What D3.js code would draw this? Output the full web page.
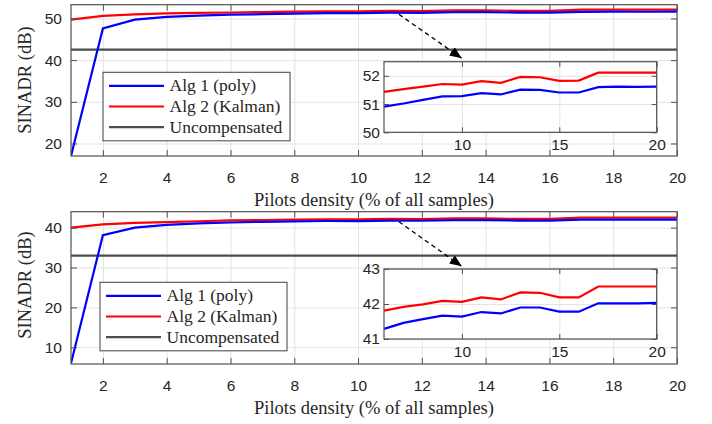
<!DOCTYPE html>
<html>
<head>
<meta charset="utf-8">
<script src="https://cdn.jsdelivr.net/npm/d3@7"></script>
<style>
	body { margin: 0; background: #fff; }
	svg { display: block; }
</style>
</head>
<body>
<script>
'use strict';

// Pilots density (% of all samples)
const density = d3.range(1, 21);

// Top panel
const topAlg1 = [17.0, 47.6, 49.7, 50.4, 50.7, 50.91, 51.02, 51.15, 51.27, 51.28, 51.39, 51.34, 51.51, 51.50, 51.41, 51.41, 51.60, 51.62, 51.61, 51.62];
const topAlg2 = [49.7, 50.6, 51.0, 51.2, 51.35, 51.43, 51.53, 51.62, 51.71, 51.69, 51.81, 51.75, 51.96, 51.95, 51.82, 51.83, 52.11, 52.11, 52.11, 52.11];
const topUncomp = 42.5;

// Bottom panel
const botAlg1 = [6.0, 38.1, 40.0, 40.7, 41.05, 41.29, 41.46, 41.57, 41.67, 41.64, 41.77, 41.73, 41.90, 41.90, 41.78, 41.78, 42.02, 42.02, 42.02, 42.03];
const botAlg2 = [40.0, 40.8, 41.2, 41.4, 41.6, 41.81, 41.92, 41.99, 42.09, 42.06, 42.19, 42.13, 42.33, 42.32, 42.19, 42.19, 42.50, 42.50, 42.50, 42.50];
const botUncomp = 33;

const xTicks = [2, 4, 6, 8, 10, 12, 14, 16, 18, 20];
const topYTicks = [20, 30, 40, 50];
const botYTicks = [10, 20, 30, 40];
const insetXTicks = [10, 15, 20];
const topInsetYTicks = [50, 51, 52];
const botInsetYTicks = [41, 42, 43];

const legendLabels = ["Alg 1 (poly)", "Alg 2 (Kalman)", "Uncompensated"];
const xLabel = "Pilots density (% of all samples)";
const yLabel = "SINADR (dB)";

const BLUE = "#0000ff", RED = "#ff0000", GRAY = "#4d4d4d";
const AXIS = "#505050", GRID = "#e3e3e3";
const SANS = "'Liberation Sans', Arial, sans-serif";
const SERIF = "'Liberation Serif', 'Times New Roman', serif";
const fmt = d3.format("d");

const svg = d3.select("body").append("svg")
	.attr("width", 712)
	.attr("height", 424);

svg.append("defs").append("marker")
	.attr("id", "head")
	.attr("markerUnits", "userSpaceOnUse")
	.attr("viewBox", "0 0 12 10")
	.attr("refX", 12).attr("refY", 5)
	.attr("markerWidth", 12).attr("markerHeight", 10)
	.attr("orient", "auto")
	.append("path")
	.attr("d", "M0,0 L12,5 L0,10 Z")
	.attr("fill", "#000");

// White plot area and grid
const drawFrame = (g, xScale, yScale, xt, yt) => {
	const [x0, x1] = xScale.range();
	const [y0, y1] = yScale.range(); // y0 bottom, y1 top

	g.append("rect")
		.attr("x", x0).attr("y", y1)
		.attr("width", x1 - x0).attr("height", y0 - y1)
		.attr("fill", "#fff");

	g.append("g")
		.attr("transform", `translate(0, ${y0})`)
		.call(d3.axisBottom(xScale).tickValues(xt).tickSize(-(y0 - y1)).tickFormat(""))
		.call(s => s.select(".domain").remove())
		.selectAll("line").attr("stroke", GRID);
	g.append("g")
		.attr("transform", `translate(${x0}, 0)`)
		.call(d3.axisLeft(yScale).tickValues(yt).tickSize(-(x1 - x0)).tickFormat(""))
		.call(s => s.select(".domain").remove())
		.selectAll("line").attr("stroke", GRID);
}

// Box with inward ticks on all four sides
const drawTicks = (g, xScale, yScale, xt, yt, tick, xPad, yPad) => {
	const [x0, x1] = xScale.range();
	const [y0, y1] = yScale.range();
	const style = s => {
		s.select(".domain").remove();
		s.selectAll("line").attr("stroke", AXIS);
		s.selectAll("text")
			.attr("font-family", SANS)
			.attr("font-size", "15.5px")
			.attr("fill", "#262626");
	}
	g.append("g")
		.attr("transform", `translate(0, ${y0})`)
		.call(d3.axisBottom(xScale).tickValues(xt).tickSize(-tick).tickPadding(xPad).tickFormat(fmt))
		.call(style);
	g.append("g")
		.attr("transform", `translate(0, ${y1})`)
		.call(d3.axisTop(xScale).tickValues(xt).tickSize(-tick).tickFormat(""))
		.call(style);
	g.append("g")
		.attr("transform", `translate(${x0}, 0)`)
		.call(d3.axisLeft(yScale).tickValues(yt).tickSize(-tick).tickPadding(yPad).tickFormat(fmt))
		.call(style);
	g.append("g")
		.attr("transform", `translate(${x1}, 0)`)
		.call(d3.axisRight(yScale).tickValues(yt).tickSize(-tick).tickFormat(""))
		.call(style);

	g.append("rect")
		.attr("x", x0).attr("y", y1)
		.attr("width", x1 - x0).attr("height", y0 - y1)
		.attr("fill", "none")
		.attr("stroke", AXIS)
		.attr("stroke-width", 1.2);
}

const drawPanel = (p) => {
	const g = svg.append("g");
	const xScale = d3.scaleLinear().domain([1, 20]).range([71, 677]);
	const yScale = d3.scaleLinear().domain(p.yDomain).range([p.bottom, p.top]);

	drawFrame(g, xScale, yScale, xTicks, p.yTicks);

	const clipId = "clip" + p.id;
	g.append("clipPath").attr("id", clipId)
		.append("rect")
		.attr("x", 71).attr("y", p.top)
		.attr("width", 606).attr("height", p.bottom - p.top);

	const line = d3.line()
		.x((d, i) => xScale(density[i]))
		.y(d => yScale(d));

	const plot = g.append("g").attr("clip-path", `url(#${clipId})`);
	plot.append("path")
		.attr("d", line(density.map(() => p.uncomp)))
		.attr("fill", "none").attr("stroke", GRAY).attr("stroke-width", 2.2);
	plot.append("path")
		.attr("d", line(p.alg2))
		.attr("fill", "none").attr("stroke", RED).attr("stroke-width", 2.2);
	plot.append("path")
		.attr("d", line(p.alg1))
		.attr("fill", "none").attr("stroke", BLUE).attr("stroke-width", 2.2);

	drawTicks(g, xScale, yScale, xTicks, p.yTicks, 6, 16, 9);

	// axis titles
	g.append("text")
		.attr("x", (71 + 677) / 2)
		.attr("y", p.bottom + 50)
		.attr("text-anchor", "middle")
		.attr("font-family", SERIF)
		.attr("font-size", "18.5px")
		.attr("fill", "#262626")
		.text(xLabel);
	g.append("text")
		.attr("transform", `translate(31, ${p.yTitle}) rotate(-90)`)
		.attr("text-anchor", "middle")
		.attr("font-family", SERIF)
		.attr("font-size", "18.5px")
		.attr("fill", "#262626")
		.text(yLabel);

	// arrow to the inset
	g.append("line")
		.attr("x1", xScale(p.arrow[0][0])).attr("y1", yScale(p.arrow[0][1]))
		.attr("x2", xScale(p.arrow[1][0])).attr("y2", yScale(p.arrow[1][1]))
		.attr("stroke", "#000")
		.attr("stroke-width", 1.3)
		.attr("stroke-dasharray", "4.5,3.5")
		.attr("marker-end", "url(#head)");

	// legend
	const lg = g.append("g").attr("transform", `translate(${p.legend[0]}, ${p.legend[1]})`);
	lg.append("rect")
		.attr("width", 187).attr("height", 68.5)
		.attr("fill", "#fff")
		.attr("stroke", AXIS)
		.attr("stroke-width", 1.1);
	const colors = [BLUE, RED, GRAY];
	legendLabels.forEach((lab, i) => {
		const y = 13.5 + i * 20.7;
		lg.append("line")
			.attr("x1", 6).attr("x2", 61)
			.attr("y1", y).attr("y2", y)
			.attr("stroke", colors[i]).attr("stroke-width", 2.2);
		lg.append("text")
			.attr("x", 66.5).attr("y", y + 5.5)
			.attr("text-anchor", "start")
			.attr("font-family", SERIF)
			.attr("font-size", "17.5px")
			.attr("fill", "#262626")
			.text(lab);
	});

	// inset
	const ig = svg.append("g");
	const ix = d3.scaleLinear().domain([6, 20]).range([384, 656.7]);
	const iy = d3.scaleLinear().domain(p.insetDomain).range([p.insetBottom, p.insetTop]);
	drawFrame(ig, ix, iy, insetXTicks, p.insetTicks);
	const iline = d3.line()
		.defined((d, i) => density[i] >= 6)
		.x((d, i) => ix(density[i]))
		.y(d => iy(d));
	ig.append("path")
		.attr("d", iline(p.alg2))
		.attr("fill", "none").attr("stroke", RED).attr("stroke-width", 2.2);
	ig.append("path")
		.attr("d", iline(p.alg1))
		.attr("fill", "none").attr("stroke", BLUE).attr("stroke-width", 2.2);
	drawTicks(ig, ix, iy, insetXTicks, p.insetTicks, 5, 7, 4);
}

drawPanel({
	id: "top",
	top: 4.7, bottom: 156,
	yDomain: [17, 53.3],
	yTicks: topYTicks,
	alg1: topAlg1, alg2: topAlg2, uncomp: topUncomp,
	yTitle: 80,
	legend: [103, 72.3],
	arrow: [[11.28, 51.0], [13.25, 40.45]],
	insetTop: 61.7, insetBottom: 132.3,
	insetDomain: [50, 52.5],
	insetTicks: topInsetYTicks
});

drawPanel({
	id: "bot",
	top: 211.7, bottom: 364,
	yDomain: [5.8, 44],
	yTicks: botYTicks,
	alg1: botAlg1, alg2: botAlg2, uncomp: botUncomp,
	yTitle: 285,
	legend: [100, 282.3],
	arrow: [[11.28, 41.5], [13.25, 30.3]],
	insetTop: 269, insetBottom: 339,
	insetDomain: [41, 43],
	insetTicks: botInsetYTicks
});
</script>
</body>
</html>
